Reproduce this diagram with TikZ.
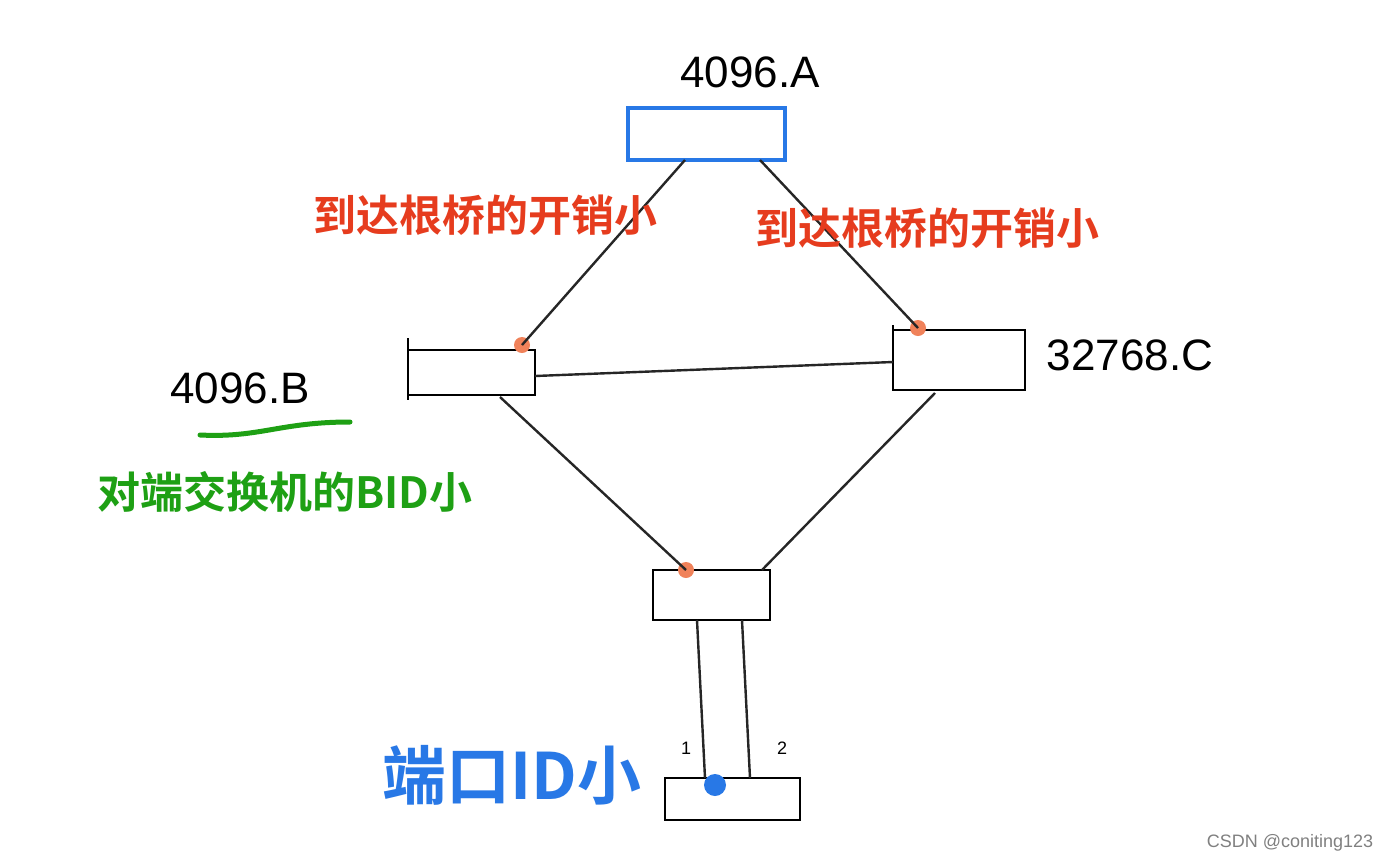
\documentclass[tikz,border=0pt]{standalone}
\usepackage{fontspec}
\setmainfont{Liberation Sans}
\newfontfamily\cjk{Noto Sans CJK SC}[BoldFont={Noto Sans CJK SC Bold}]
\definecolor{cred}{RGB}{230,60,30}
\definecolor{cgreen}{RGB}{30,160,20}
\definecolor{cblue}{RGB}{40,120,230}
\definecolor{corange}{RGB}{240,130,90}
\tikzset{
  sw/.style={draw=black,line width=1.2pt},
  link/.style={draw=black!85,line width=1.2pt},
  port/.style={fill=corange,draw=none,circle,minimum size=8pt,inner sep=0pt},
  hand/.style={font=\fontsize{22}{22}\selectfont,inner sep=0pt},
  note/.style={font=\cjk\bfseries\fontsize{21.5}{21.5}\selectfont,inner sep=0pt}
}
\begin{document}
\begin{tikzpicture}[x=0.5pt,y=-0.5pt]
\useasboundingbox[fill=white] (0,0) rectangle (1378,864);
% switches
\path[draw=cblue,line width=2.4pt] (628,108) rectangle (785,160);
\path[sw] (408,350) rectangle (535,395);
\path[sw] (408,338) -- (408,400);
\path[sw] (893,330) rectangle (1025,390);
\path[sw] (893,325) -- (893,390);
\path[sw] (653,570) rectangle (770,620);
\path[sw] (665,778) rectangle (800,820);
\node[hand] (tA) at (750,72) {4096.A};
\node[hand] (tB) at (240,388) {4096.B};
\node[hand] (tC) at (1130,355) {32768.C};
% ports
\coordinate (a1) at (685,160); \coordinate (a2) at (760,160);
\node[port] (pB) at (522,345) {};
\node[port] (pC) at (918,328) {};
\node[port] (pD) at (686,570) {};
\coordinate (b1) at (535,376); \coordinate (c1) at (893,362);
\coordinate (b2) at (500,397); \coordinate (c2) at (935,393);
\coordinate (d2) at (762,570);
\coordinate (d3) at (697,620); \coordinate (d4) at (742,620);
\coordinate (e1) at (705,778); \coordinate (e2) at (750,778);
% links
\path[link] (a1) -- (pB.center);
\path[link] (a2) -- (pC.center);
\path[link] (b1) -- (c1);
\path[link] (b2) -- (pD.center);
\path[link] (c2) -- (d2);
\path[link] (d3) -- (e1);
\path[link] (d4) -- (e2);
\node[hand,font=\small] (n1) at (686,748) {1};
\node[hand,font=\small] (n2) at (782,748) {2};
% notes
\node[note,text=cred] (costL) at (485,215) {到达根桥的开销小};
\node[note,text=cred] (costR) at (927,228) {到达根桥的开销小};
\node[note,text=cgreen] (bid) at (285,492) {对端交换机的BID小};
\path[draw=cgreen,line width=2.5pt,line cap=round] (200,435) .. controls (260,438) and (280,422) .. (350,422);
\node[note,text=cblue,font=\cjk\bfseries\fontsize{32}{32}\selectfont] (pid) at (512,775) {端口ID小};
\path[fill=cblue] (715,785) circle (11);
\node[text=gray,font=\fontsize{9}{9}\selectfont,inner sep=0pt] (wm) at (1290,843) {CSDN @coniting123};
\end{tikzpicture}
\end{document}
